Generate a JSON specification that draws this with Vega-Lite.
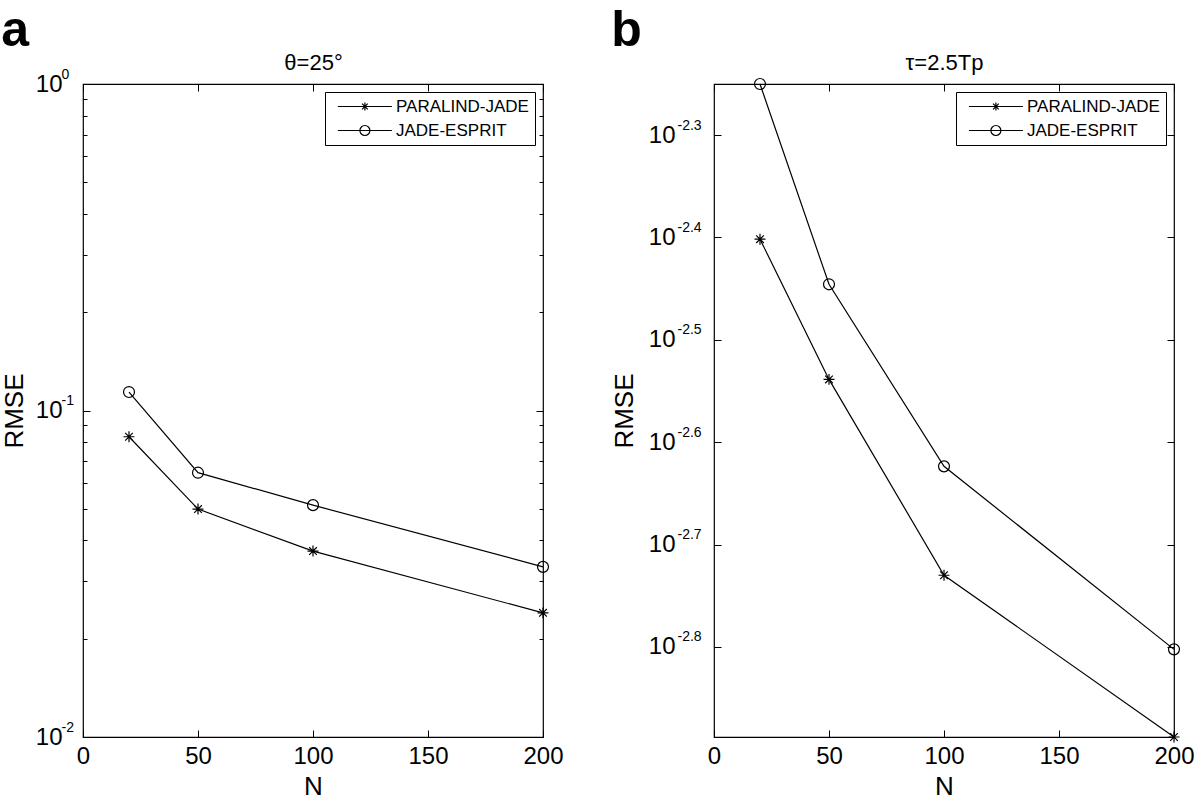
{
  "$schema": "https://vega.github.io/schema/vega-lite/v6.json",
  "background": "white",
  "padding": {"left": 0, "top": 4, "right": 4, "bottom": 4},
  "datasets": {
    "panelA": [
      {"N": 20, "RMSE": 0.0831, "method": "PARALIND-JADE"},
      {"N": 50, "RMSE": 0.0499, "method": "PARALIND-JADE"},
      {"N": 100, "RMSE": 0.0371, "method": "PARALIND-JADE"},
      {"N": 200, "RMSE": 0.0240, "method": "PARALIND-JADE"},
      {"N": 20, "RMSE": 0.1139, "method": "JADE-ESPRIT"},
      {"N": 50, "RMSE": 0.0645, "method": "JADE-ESPRIT"},
      {"N": 100, "RMSE": 0.0513, "method": "JADE-ESPRIT"},
      {"N": 200, "RMSE": 0.0332, "method": "JADE-ESPRIT"}
    ],
    "panelB": [
      {"N": 20, "RMSE": 0.003966, "method": "PARALIND-JADE"},
      {"N": 50, "RMSE": 0.002893, "method": "PARALIND-JADE"},
      {"N": 100, "RMSE": 0.001862, "method": "PARALIND-JADE"},
      {"N": 200, "RMSE": 0.001294, "method": "PARALIND-JADE"},
      {"N": 20, "RMSE": 0.005623, "method": "JADE-ESPRIT"},
      {"N": 50, "RMSE": 0.003583, "method": "JADE-ESPRIT"},
      {"N": 100, "RMSE": 0.002379, "method": "JADE-ESPRIT"},
      {"N": 200, "RMSE": 0.001576, "method": "JADE-ESPRIT"}
    ]
  },
  "hconcat": [
    {
      "width": 460,
      "height": 653,
      "title": {"text": "a", "anchor": "start", "frame": "bounds", "fontSize": 50, "fontWeight": "bold", "offset": -4},
      "data": {"name": "panelA"},
      "layer": [
        {
          "mark": {"type": "line", "color": "black", "strokeWidth": 1.2},
          "encoding": {
            "x": {"field": "N", "type": "quantitative", "scale": {"domain": [0, 200], "nice": false, "zero": false},
                  "axis": {"orient": "bottom", "title": "N", "values": [0, 50, 100, 150, 200], "tickSize": -7, "labelPadding": 14, "titlePadding": 5, "labelFlush": false, "labelOverlap": false}},
            "y": {"field": "RMSE", "type": "quantitative", "scale": {"type": "log", "domain": [0.01, 1], "nice": false},
                  "axis": {"orient": "left", "title": "RMSE", "values": [0.01, 0.02, 0.03, 0.04, 0.05, 0.06, 0.07, 0.08, 0.09, 0.1, 0.2, 0.3, 0.4, 0.5, 0.6, 0.7, 0.8, 0.9, 1],
                           "labelExpr": "(datum.value == 1 || datum.value == 0.1 || datum.value == 0.01) ? '10' : ''",
                           "tickSize": {"condition": {"test": "datum.value == 1 || datum.value == 0.1 || datum.value == 0.01", "value": -7}, "value": -4},
                           "labelPadding": 28, "titlePadding": 8, "labelFlush": false, "labelOverlap": false}},
            "detail": {"field": "method"}
          }
        },
        {
          "mark": {"type": "point", "filled": false, "stroke": "black", "strokeWidth": 1.2, "size": 120, "opacity": 1},
          "encoding": {
            "x": {"field": "N", "type": "quantitative", "axis": null},
            "y": {"field": "RMSE", "type": "quantitative", "axis": null},
            "shape": {"field": "method", "type": "nominal",
                      "scale": {"domain": ["PARALIND-JADE", "JADE-ESPRIT"], "range": ["M-1,0H1M0,-1V1M-0.7,-0.7L0.7,0.7M-0.7,0.7L0.7,-0.7", "circle"]},
                      "legend": null}
          }
        },
        {
          "mark": {"type": "point", "filled": false, "stroke": "black", "opacity": 0},
          "encoding": {
            "x": {"field": "N", "type": "quantitative", "axis": null},
            "y": {"field": "RMSE", "type": "quantitative", "axis": null},
            "shape": {"field": "method", "type": "nominal",
                      "scale": {"domain": ["PARALIND-JADE", "JADE-ESPRIT"], "range": ["M-0.32,0H10.48M5.08,-0.8V0.8M4.51,-0.57L5.65,0.57M4.51,0.57L5.65,-0.57", "M-0.32,0H10.48M4.08,0A1,1,0,1,1,6.08,0A1,1,0,1,1,4.08,0"]},
                      "legend": {"title": null, "orient": "top-right", "offset": 8, "strokeColor": "black", "fillColor": "white", "padding": 6,
                                 "labelFontSize": 17, "labelColor": "black", "labelOffset": 48, "symbolSize": 100, "symbolStrokeColor": "black",
                                 "symbolStrokeWidth": 1.2, "symbolFillColor": "transparent", "symbolOpacity": 1, "rowPadding": 6}}
          }
        },
        {
          "mark": {"type": "point", "opacity": 0},
          "encoding": {
            "x": {"field": "N", "type": "quantitative",
                  "axis": {"orient": "top", "title": "θ=25°", "labels": false, "values": [0, 50, 100, 150, 200], "tickSize": -7, "titlePadding": 9, "titleFontSize": 22}},
            "y": {"field": "RMSE", "type": "quantitative",
                  "axis": {"orient": "right", "title": null, "labels": false, "values": [0.01, 0.02, 0.03, 0.04, 0.05, 0.06, 0.07, 0.08, 0.09, 0.1, 0.2, 0.3, 0.4, 0.5, 0.6, 0.7, 0.8, 0.9, 1],
                           "tickSize": {"condition": {"test": "datum.value == 1 || datum.value == 0.1 || datum.value == 0.01", "value": -7}, "value": -4}}}
          }
        },
        {
          "mark": {"type": "point", "opacity": 0},
          "encoding": {
            "x": {"field": "N", "type": "quantitative", "axis": null},
            "y": {"field": "RMSE", "type": "quantitative",
                  "axis": {"orient": "left", "title": null, "ticks": false, "values": [0.01, 0.1, 1],
                           "labelExpr": "datum.value == 1 ? '0' : datum.value == 0.1 ? '-1' : '-2'",
                           "labelAlign": "left", "labelBaseline": "middle", "labelOffset": -10, "labelFontSize": 14, "labelPadding": 22,
                           "labelFlush": false, "labelOverlap": false}}
          }
        }
      ],
      "resolve": {"scale": {"shape": "independent"}, "axis": {"x": "independent", "y": "independent"}}
    },
    {
      "width": 460,
      "height": 653,
      "title": {"text": "b", "anchor": "start", "frame": "bounds", "fontSize": 50, "fontWeight": "bold", "offset": -4},
      "data": {"name": "panelB"},
      "layer": [
        {
          "mark": {"type": "line", "color": "black", "strokeWidth": 1.2},
          "encoding": {
            "x": {"field": "N", "type": "quantitative", "scale": {"domain": [0, 200], "nice": false, "zero": false},
                  "axis": {"orient": "bottom", "title": "N", "values": [0, 50, 100, 150, 200], "tickSize": -7, "labelPadding": 14, "titlePadding": 5, "labelFlush": false, "labelOverlap": false}},
            "y": {"field": "RMSE", "type": "quantitative", "scale": {"type": "log", "domain": [0.001294, 0.005623], "nice": false, "zero": false},
                  "axis": {"orient": "left", "title": "RMSE", "values": [0.005011872, 0.003981072, 0.003162278, 0.002511886, 0.001995262, 0.001584893],
                           "labelExpr": "'10'",
                           "tickSize": -7, "labelPadding": 46, "titlePadding": 11, "labelFlush": false, "labelOverlap": false}},
            "detail": {"field": "method"}
          }
        },
        {
          "mark": {"type": "point", "filled": false, "stroke": "black", "strokeWidth": 1.2, "size": 120, "opacity": 1},
          "encoding": {
            "x": {"field": "N", "type": "quantitative", "axis": null},
            "y": {"field": "RMSE", "type": "quantitative", "axis": null},
            "shape": {"field": "method", "type": "nominal",
                      "scale": {"domain": ["PARALIND-JADE", "JADE-ESPRIT"], "range": ["M-1,0H1M0,-1V1M-0.7,-0.7L0.7,0.7M-0.7,0.7L0.7,-0.7", "circle"]},
                      "legend": null}
          }
        },
        {
          "mark": {"type": "point", "filled": false, "stroke": "black", "opacity": 0},
          "encoding": {
            "x": {"field": "N", "type": "quantitative", "axis": null},
            "y": {"field": "RMSE", "type": "quantitative", "axis": null},
            "shape": {"field": "method", "type": "nominal",
                      "scale": {"domain": ["PARALIND-JADE", "JADE-ESPRIT"], "range": ["M-0.32,0H10.48M5.08,-0.8V0.8M4.51,-0.57L5.65,0.57M4.51,0.57L5.65,-0.57", "M-0.32,0H10.48M4.08,0A1,1,0,1,1,6.08,0A1,1,0,1,1,4.08,0"]},
                      "legend": {"title": null, "orient": "top-right", "offset": 8, "strokeColor": "black", "fillColor": "white", "padding": 6,
                                 "labelFontSize": 17, "labelColor": "black", "labelOffset": 48, "symbolSize": 100, "symbolStrokeColor": "black",
                                 "symbolStrokeWidth": 1.2, "symbolFillColor": "transparent", "symbolOpacity": 1, "rowPadding": 6}}
          }
        },
        {
          "mark": {"type": "point", "opacity": 0},
          "encoding": {
            "x": {"field": "N", "type": "quantitative",
                  "axis": {"orient": "top", "title": "τ=2.5Tp", "labels": false, "values": [0, 50, 100, 150, 200], "tickSize": -7, "titlePadding": 9, "titleFontSize": 22}},
            "y": {"field": "RMSE", "type": "quantitative",
                  "axis": {"orient": "right", "title": null, "labels": false, "values": [0.005011872, 0.003981072, 0.003162278, 0.002511886, 0.001995262, 0.001584893], "tickSize": -7}}
          }
        },
        {
          "mark": {"type": "point", "opacity": 0},
          "encoding": {
            "x": {"field": "N", "type": "quantitative", "axis": null},
            "y": {"field": "RMSE", "type": "quantitative",
                  "axis": {"orient": "left", "title": null, "ticks": false, "values": [0.005011872, 0.003981072, 0.003162278, 0.002511886, 0.001995262, 0.001584893],
                           "labelExpr": "'-2.' + (round(-log(datum.value) / LN10 * 10) - 20)",
                           "labelAlign": "left", "labelBaseline": "middle", "labelOffset": -10, "labelFontSize": 14, "labelPadding": 37,
                           "labelFlush": false, "labelOverlap": false}}
          }
        }
      ],
      "resolve": {"scale": {"shape": "independent"}, "axis": {"x": "independent", "y": "independent"}}
    }
  ],
  "spacing": 37,
  "config": {
    "font": "Liberation Sans",
    "view": {"stroke": "black", "strokeWidth": 1.2},
    "axis": {"grid": false, "domain": false, "labelFont": "Liberation Sans", "labelFontSize": 24, "labelColor": "black",
             "titleFont": "Liberation Sans", "titleFontSize": 26, "titleFontWeight": "normal", "titleColor": "black",
             "tickColor": "black", "tickWidth": 1},
    "legend": {"labelFont": "Liberation Sans"},
    "title": {"font": "Liberation Sans", "color": "black"}
  }
}
